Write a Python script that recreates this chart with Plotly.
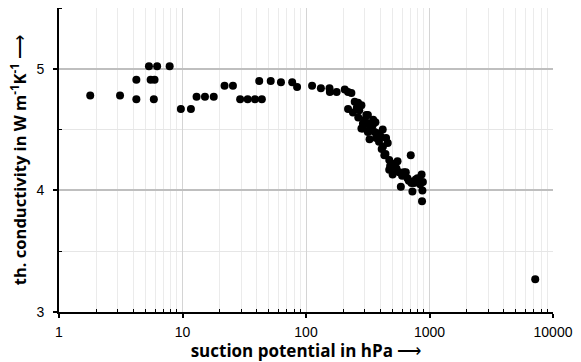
import plotly.graph_objects as go

# suction potential (hPa)
suction = [1.79, 3.12, 4.23, 4.23, 5.35, 6.23, 7.87, 5.52, 5.94, 5.86,
           9.7, 11.7, 13.0, 15.2, 17.9, 21.9, 25.6, 29.3, 33.7, 38.6, 43.9,
           41.8, 51.8, 62.7, 77.3, 84.7, 112, 132, 155, 156, 177, 206, 219, 233,
           248, 264, 281, 219, 240, 308, 289, 327, 258, 270,
           317, 289, 327, 348, 281, 317, 359, 381, 418, 327, 370, 405,
           445, 459, 431, 472, 551, 472, 503, 568, 643, 663, 705, 586, 773,
           727, 863, 884, 876, 870, 821, 714, 300, 340, 395, 420, 350, 365,
           300, 265, 390, 410, 440, 480, 520, 540, 600, 620, 680, 750, 800, 840,
           7180]
# thermal conductivity (W m-1 K-1)
conductivity = [4.78, 4.78, 4.91, 4.75, 5.02, 5.02, 5.02, 4.91, 4.91, 4.75,
                4.67, 4.67, 4.77, 4.77, 4.77, 4.86, 4.86, 4.75, 4.75, 4.75, 4.75,
                4.90, 4.90, 4.89, 4.89, 4.85, 4.86, 4.84, 4.84, 4.81, 4.81, 4.83, 4.81, 4.80,
                4.73, 4.72, 4.70, 4.67, 4.64, 4.62, 4.51, 4.50, 4.68, 4.66,
                4.62, 4.55, 4.55, 4.54, 4.51, 4.48, 4.48, 4.47, 4.50, 4.42, 4.43, 4.44,
                4.43, 4.39, 4.29, 4.25, 4.24, 4.17, 4.13, 4.15, 4.15, 4.10, 4.29, 4.03, 4.09,
                3.99, 4.13, 4.07, 4.00, 3.91, 4.09, 4.06, 4.58, 4.52, 4.46, 4.36, 4.58, 4.56,
                4.55, 4.60, 4.40, 4.34, 4.30, 4.20, 4.22, 4.18, 4.12, 4.15, 4.08, 4.06, 4.10, 4.05,
                3.27]

x_major = [1, 10, 100, 1000, 10000]
x_labels = ["1", "10", "100", "1000", "10000"]
x_minor = [m * d for d in [1, 10, 100, 1000] for m in range(2, 10)]
y_major = [3, 4, 5]
y_minor = [3.5, 4.5, 5.5]

fig = go.Figure()
fig.add_trace(go.Scatter(
    x=suction, y=conductivity, mode="markers",
    marker=dict(color="black", size=8),
    showlegend=False,
))

fig.update_layout(
    width=581, height=362,
    margin=dict(l=59, r=22, t=8, b=50),
    paper_bgcolor="white", plot_bgcolor="white",
    font=dict(family="Liberation Sans, Arial", size=14, color="black"),
)

fig.update_xaxes(
    type="log", range=[0, 4],
    tickmode="array", tickvals=x_major, ticktext=x_labels,
    ticks="outside", ticklen=4, tickwidth=1.5, tickcolor="black",
    ticklabelstandoff=2,
    showline=True, linecolor="black", linewidth=2,
    showgrid=True, gridcolor="#d4d4d4", gridwidth=1,
    zeroline=False,
    minor=dict(tickmode="array", tickvals=x_minor, ticks="inside", ticklen=3,
               tickcolor="black", tickwidth=1, showgrid=True,
               gridcolor="#ebebeb", gridwidth=1),
    title=dict(text="suction potential in hPa <span style='font-weight:normal'>⟶</span>", standoff=2,
               font=dict(family="Open Sans", size=17, weight="bold")),
)
fig.update_yaxes(
    range=[3, 5.5],
    tickmode="array", tickvals=y_major,
    ticks="outside", ticklen=4, tickwidth=1.5, tickcolor="black",
    ticklabelstandoff=6,
    showline=True, linecolor="black", linewidth=2,
    showgrid=True, gridcolor="#bfbfbf", gridwidth=1.5,
    zeroline=False,
    minor=dict(tickmode="array", tickvals=y_minor, ticks="inside", ticklen=3,
               tickcolor="black", tickwidth=1, showgrid=True,
               gridcolor="#e6e6e6", gridwidth=1),
    title=dict(text="th. conductivity in W m<sup>-1</sup>K<sup>-1</sup> <span style='font-weight:normal'>⟶</span>", standoff=6,
               font=dict(family="Open Sans", size=16.5, weight="bold")),
)

fig.write_html("out.html")
